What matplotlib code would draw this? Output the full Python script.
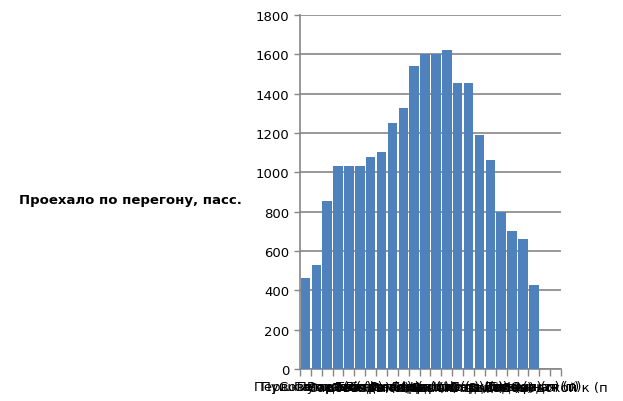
import matplotlib.pyplot as plt
import numpy as np

# пассажиропоток по перегонам
peregony = [
    "Перв. Пушк. (п", "Пушкинская (п)", "Советская (п)", "Гагарина (п)",
    "Садовая (п)", "Вокзальная (п)", "Победы (п)", "Ленина (п)",
    "Театральная (п)", "Рынок (п)", "Площадь (п)", "Мира (п)",
    "Горького (п)", "Кирова (п)", "Больница (п)", "Школа (п)",
    "Парк (п)", "Стадион (п)", "Завод (п)", "Депо (п)",
    "Лесная (п)", "Северная (п)", "Южная (п)", "Заводской к (п",
]
passazhiry = [463, 529, 854, 1034, 1034, 1034, 1080, 1105, 1251, 1327, 1540,
              1601, 1601, 1622, 1454, 1454, 1190, 1062, 800, 701, 661, 427]

grey = "#868686"

fig = plt.figure(figsize=(6.23, 4.02), dpi=100)
ax = fig.add_axes([0.4815, 0.0796, 0.419, 0.8806])

x = np.arange(len(passazhiry))
ax.bar(x, passazhiry, width=0.88, color="#4F81BD", zorder=3)

ax.set_xlim(-0.5, len(peregony) - 0.5)
ax.set_ylim(0, 1800)
ax.set_yticks(np.arange(0, 1801, 200))
ax.yaxis.grid(True, color=grey, linewidth=1.2, zorder=0)

# деления по границам категорий, подписи по центрам
ax.set_xticks(np.arange(len(peregony) + 1) - 0.5)
ax.set_xticklabels([])
ax.set_xticks(np.arange(len(peregony)), minor=True)
ax.set_xticklabels(peregony, minor=True, fontsize=9.5)
ax.tick_params(axis="x", which="major", length=5, color=grey, width=1)
ax.tick_params(axis="x", which="minor", length=0, pad=8)
ax.tick_params(axis="y", length=4, color=grey, width=1, labelsize=9.5)

for s in ["top", "right"]:
    ax.spines[s].set_visible(False)
for s in ["left", "bottom"]:
    ax.spines[s].set_color(grey)
    ax.spines[s].set_linewidth(1.2)

fig.text(0.209, 0.5, "Проехало по перегону, пасс.", ha="center", va="center",
         fontsize=9.5, fontweight="bold")

fig.savefig("out.png", dpi=100)
